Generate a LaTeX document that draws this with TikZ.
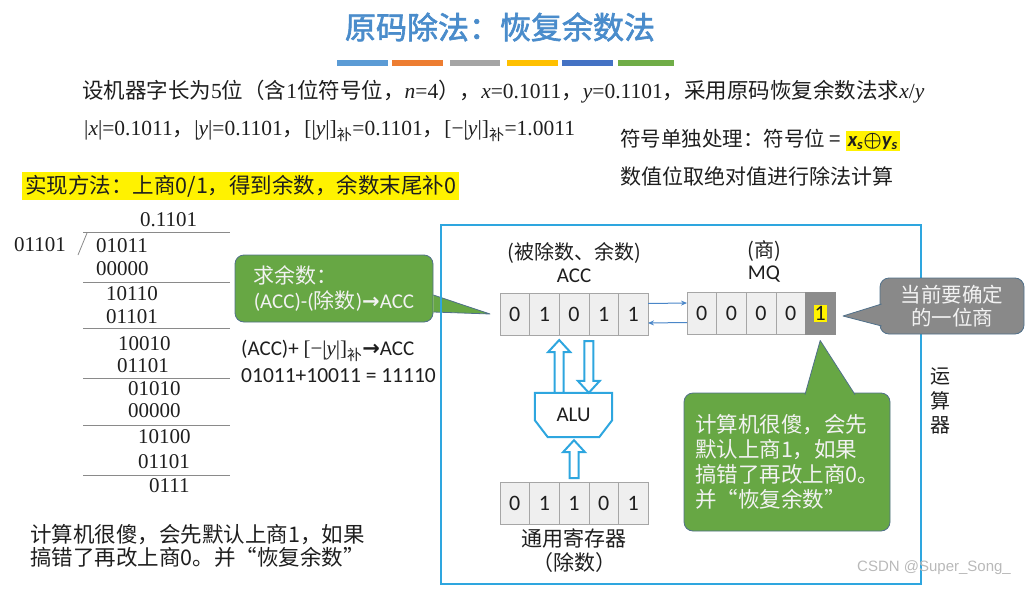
\documentclass[tikz,border=0pt]{standalone}
\usepackage{amsmath}
\usepackage{fontspec}
\setmainfont{Noto Sans CJK SC}
\newfontfamily\tmfont{Liberation Serif}
\newfontfamily\calf{Carlito}
\newfontfamily\djf{DejaVu Sans}
\newfontfamily\lsans{Liberation Sans}
\newfontfamily\titlef[FakeBold=2]{Noto Sans CJK SC}
\usepackage{tikz}
\usetikzlibrary{positioning,arrows.meta,calc}
\usepackage{xcolor}

\definecolor{titleblue}{HTML}{4A8CCB}
\definecolor{framecyan}{HTML}{2EA6DF}
\definecolor{arrowblue}{HTML}{4A86C8}
\definecolor{hintgreen}{HTML}{67A744}
\definecolor{hintgray}{HTML}{898989}
\definecolor{hintedge}{HTML}{50708A}
\definecolor{cellgray}{HTML}{EFEFEF}
\definecolor{celledge}{HTML}{A6A6A6}
\definecolor{cellmark}{HTML}{8C8C8C}
\definecolor{rulegray}{HTML}{8A8A8A}
\definecolor{textdark}{HTML}{1E1E1E}
\definecolor{bar1}{HTML}{5B9BD5}
\definecolor{bar2}{HTML}{ED7D31}
\definecolor{bar3}{HTML}{A5A5A5}
\definecolor{bar4}{HTML}{FFC000}
\definecolor{bar5}{HTML}{4472C4}
\definecolor{bar6}{HTML}{70AD47}

\newcommand\tms[1]{{\tmfont #1}}
\newcommand\lat[1]{{\calf #1}}
\newcommand\bu{\textsubscript{\normalfont 补}}
\newcommand\boldarr{{\djf\bfseries →}}
% hollow block arrow between two points on one vertical
\newcommand\hollowarrow[2]{%
  \draw[hollow] let \p1=#1, \p2=#2, \n1={ifthenelse(\y2>\y1,1,-1)} in
    (\x1-4.5pt,\y1) -- (\x1-4.5pt,\y2-12pt*\n1) -- (\x1-11pt,\y2-12pt*\n1) -- (\x1,\y2)
    -- (\x1+11pt,\y2-12pt*\n1) -- (\x1+4.5pt,\y2-12pt*\n1) -- (\x1+4.5pt,\y1) -- cycle;}
% pointer of a callout
\newcommand\calltail[4]{%
  \fill[#1] #2 -- #3 -- #4 -- cycle;
  \draw[hintedge, line width=0.8pt, line join=round] #2 -- #3 -- #4;}

\begin{document}
\begin{tikzpicture}[
    x=1pt, y=-1pt,
    >={Stealth[length=6pt,width=5pt]},
    txt/.style={inner sep=0pt, text=textdark, font=\fontsize{21}{24}\selectfont},
    divnum/.style={inner sep=0pt, anchor=west, text=textdark, font={\tmfont\fontsize{21}{24}\selectfont}},
    rule/.style={rulegray, line width=0.8pt},
    cell/.style={draw=celledge, fill=cellgray, minimum width=29.6pt, minimum height=42pt, inner sep=0pt, outer sep=0pt, text=textdark, font={\calf\fontsize{22}{24}\selectfont}},
    hint/.style={draw=hintedge, line width=0.8pt, rounded corners=9pt, align=left, text=white!95!black, font=\fontsize{21}{24.5}\selectfont},
    hollow/.style={draw=framecyan, line width=2pt, fill=white, line join=miter},
    link/.style={->, arrowblue, line width=1pt},
  ]
  \useasboundingbox (0,0) rectangle (1033,589);

  \node[text=titleblue, font={\titlef\fontsize{31}{36}\selectfont}] (title) at (500,27) {原码除法：恢复余数法};
  \foreach \c/\a/\b in {bar1/337/388, bar2/392/443, bar3/450/500, bar4/507/558, bar5/562/613, bar6/618/674}
    \fill[\c] (\a,60) rectangle (\b,66);

  \node[txt, anchor=west, font=\fontsize{21.5}{24}\selectfont] (task) at (82,92) {设机器字长为\tms{5}位（含\tms{1}位符号位，\tms{\textit{n}=4}），\tms{\textit{x}=0.1011}，\tms{\textit{y}=0.1101}，采用原码恢复余数法求\tms{\textit{x}/\textit{y}}};
  \node[txt, anchor=west, font=\fontsize{21.5}{24}\selectfont] (absval) at (84,131) {\tms{|\textit{x}|=0.1011}，\tms{|\textit{y}|=0.1101}，\tms{[|\textit{y}|]\bu=0.1101}，\tms{[−|\textit{y}|]\bu=1.0011}};
  \node[txt, anchor=west, font=\fontsize{20.5}{24}\selectfont] (signrule) at (620,140) {符号单独处理：符号位 = {\setlength\fboxsep{2pt}\colorbox{yellow}{\calf\bfseries\itshape x\textsubscript{s}$\boldsymbol{\oplus}$y\textsubscript{s}}}};
  \node[txt, anchor=west] (absrule) at (620,176) {数值位取绝对值进行除法计算};
  \node[txt, anchor=west, fill=yellow, inner xsep=3pt, inner ysep=3pt, font=\fontsize{21.5}{24}\selectfont] (method) at (22,186) {实现方法：上商0/1，得到余数，余数末尾补0};

  \node[divnum] (quot) at (140,220) {0.1101};
  \node[divnum] (divisor) at (14,245) {01101};
  \foreach \t/\x/\y [count=\i] in {01011/96/246, 00000/96/269, 10110/106/294, 01101/106/317, 10010/118/344, 01101/117/366, 01010/128/389, 00000/128/411, 10100/138/437, 01101/138/462, 0111/149/486}
    \node[divnum] (row\i) at (\x,\y) {\t};
  \foreach \y in {232,282,328,378,425,475}
    \draw[rule] (83,\y) -- (230,\y);
  \draw[rule] (78,255) -- (87,233);

  \node[txt, anchor=west, align=left, font=\fontsize{21.5}{23}\selectfont] (note) at (30,545.5) {计算机很傻，会先默认上商1，如果\\搞错了再改上商0。并“恢复余数”};

  \node[cell] (acc1) at (514.8,314) {0};
  \foreach \d [count=\i from 2, remember=\i as \p (initially 1)] in {1,0,1,1}
    \node[cell, right=0pt of acc\p] (acc\i) {\d};
  \node[cell] (mq1) at (701.8,313.5) {0};
  \foreach \d [count=\i from 2, remember=\i as \p (initially 1)] in {0,0,0}
    \node[cell, right=0pt of mq\p] (mq\i) {\d};
  \node[cell, fill=cellmark, draw=cellmark, right=0pt of mq4] (mq5) {\setlength\fboxsep{1pt}\colorbox{yellow}{1}};
  \node[cell] (gr1) at (514.8,503) {0};
  \foreach \d [count=\i from 2, remember=\i as \p (initially 1)] in {1,1,0,1}
    \node[cell, right=0pt of gr\p] (gr\i) {\d};

  \node[txt, font=\fontsize{20}{24}\selectfont] (accnote) at (574,253) {(被除数、余数)};
  \node[txt, font={\calf\fontsize{21}{24}\selectfont}] (acclbl) at (574,276) {ACC};
  \node[txt, font=\fontsize{20}{24}\selectfont] (mqnote) at (764,251) {(商)};
  \node[txt, font={\calf\fontsize{21}{24}\selectfont}] (mqlbl) at (764,274) {MQ};
  \node[txt] (grname) at (574,539) {通用寄存器};
  \node[txt] (grnote) at (574,563) {（除数）};

  \draw[link] ([yshift=10.5pt]acc5.east) -- ([yshift=10.5pt]mq1.west);
  \draw[link] ([yshift=-9pt]mq1.west) -- ([yshift=-9pt]acc5.east);

  \node[minimum width=77pt, minimum height=44pt, inner sep=0pt] (alu) at (573.5,415) {};
  \draw[hollow] (alu.north west) -- (alu.north east) -- ([yshift=17pt]alu.south east) -- ([xshift=-13pt]alu.south east)
    -- ([xshift=13pt]alu.south west) -- ([yshift=17pt]alu.south west) -- cycle;
  \node[text=textdark, font={\calf\fontsize{21}{24}\selectfont}] (alutext) at (alu) {ALU};
  \hollowarrow{(alu.north -| acc2.south east)}{([yshift=-5pt]acc2.south east)}
  \hollowarrow{([yshift=-6pt]acc3.south east)}{(alu.north -| acc3.south east)}
  \hollowarrow{([yshift=4pt]gr3.north)}{([yshift=-3pt]alu.south)}

  \node[hint, fill=hintgreen, minimum width=198pt, minimum height=67pt] (hint1) at (334,288.5) {求余数：\\\lat{(ACC)-(}除数\lat{)}\boldarr\lat{ACC}};
  \calltail{hintgreen}{([shift={(0pt,-6.5pt)}]hint1.east)}{([xshift=-10pt]acc1.west)}{([shift={(0pt,-23.5pt)}]hint1.east)}
  \node[txt, anchor=west] (step) at (241,351) {\lat{(ACC)+ }\tms{[−|\textit{y}|]}\bu\boldarr\lat{ACC}};
  \node[txt, anchor=west, font={\calf\fontsize{21.5}{24}\selectfont}] (sum) at (241,376) {01011+10011 = 11110};

  \node[hint, fill=hintgreen, minimum width=206pt, minimum height=138pt, font=\fontsize{21.5}{25}\selectfont] (hint2) at (787,462) {计算机很傻，会先\\默认上商1，如果\\搞错了再改上商0。\\并“恢复余数”};
  \calltail{hintgreen}{([shift={(18pt,-2pt)}]hint2.north)}{([yshift=-6pt]mq5.south)}{([shift={(68pt,-2pt)}]hint2.north)}

  \draw[framecyan, line width=2.5pt] (441,225) rectangle (921,584);

  \node[hint, fill=hintgray, align=center, minimum width=144pt, minimum height=56pt, font=\fontsize{20.5}{23}\selectfont] (hint3) at (952,306) {当前要确定\\的一位商};
  \calltail{hintgray}{([shift={(2pt,2pt)}]hint3.west)}{([shift={(8pt,-2.5pt)}]mq5.east)}{([shift={(2pt,-20pt)}]hint3.west)}

  \node[txt, align=center, font=\fontsize{20}{24.5}\selectfont] (aluname) at (940,401) {运\\算\\器};
  \node[inner sep=0pt, anchor=west, text=gray!55, font={\lsans\fontsize{15}{18}\selectfont}] (mark) at (857,568) {CSDN @Super\_Song\_};
\end{tikzpicture}
\end{document}
